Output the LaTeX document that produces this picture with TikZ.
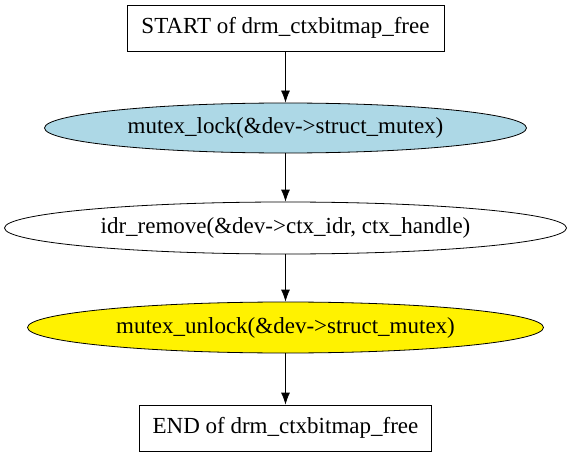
\documentclass[tikz,border=0pt]{standalone}
\usepackage{fontspec}
\setmainfont{Liberation Serif}
\usetikzlibrary{shapes.geometric,arrows.meta}
\tikzset{
  flowbox/.style={draw, rectangle, line width=0.8pt, minimum height=46pt},
  flowcall/.style={draw, ellipse, line width=0.8pt, inner sep=0pt},
  flowtext/.style={font=\fontsize{23}{26}\selectfont}
}
\begin{document}
\begin{tikzpicture}[x=1pt,y=1pt]
\useasboundingbox (0,0) rectangle (571,459);
\node[flowbox, flowtext, minimum width=317pt] (start) at (285.5,431) {START of drm\_ctxbitmap\_free};
\node[flowcall, flowtext, fill={rgb,255:red,173;green,216;blue,230}, minimum width=482pt, minimum height=50pt] (lock) at (285.5,331) {mutex\_lock(\&dev->struct\_mutex)};
\node[flowcall, flowtext, minimum width=562pt, minimum height=52pt] (remove) at (285.5,231) {idr\_remove(\&dev->ctx\_idr, ctx\_handle)};
\node[flowcall, flowtext, fill=yellow, minimum width=516pt, minimum height=51pt] (unlock) at (285.5,131.5) {mutex\_unlock(\&dev->struct\_mutex)};
\node[flowbox, flowtext, minimum width=292pt] (end) at (285.5,31) {END of drm\_ctxbitmap\_free};
\path[draw,line width=0.8pt,-{Latex[length=12pt,width=9pt]}] (start) -- (lock);
\path[draw,line width=0.8pt,-{Latex[length=12pt,width=9pt]}] (lock) -- (remove);
\path[draw,line width=0.8pt,-{Latex[length=12pt,width=9pt]}] (remove) -- (unlock);
\path[draw,line width=0.8pt,-{Latex[length=12pt,width=9pt]}] (unlock) -- (end);
\end{tikzpicture}
\end{document}
